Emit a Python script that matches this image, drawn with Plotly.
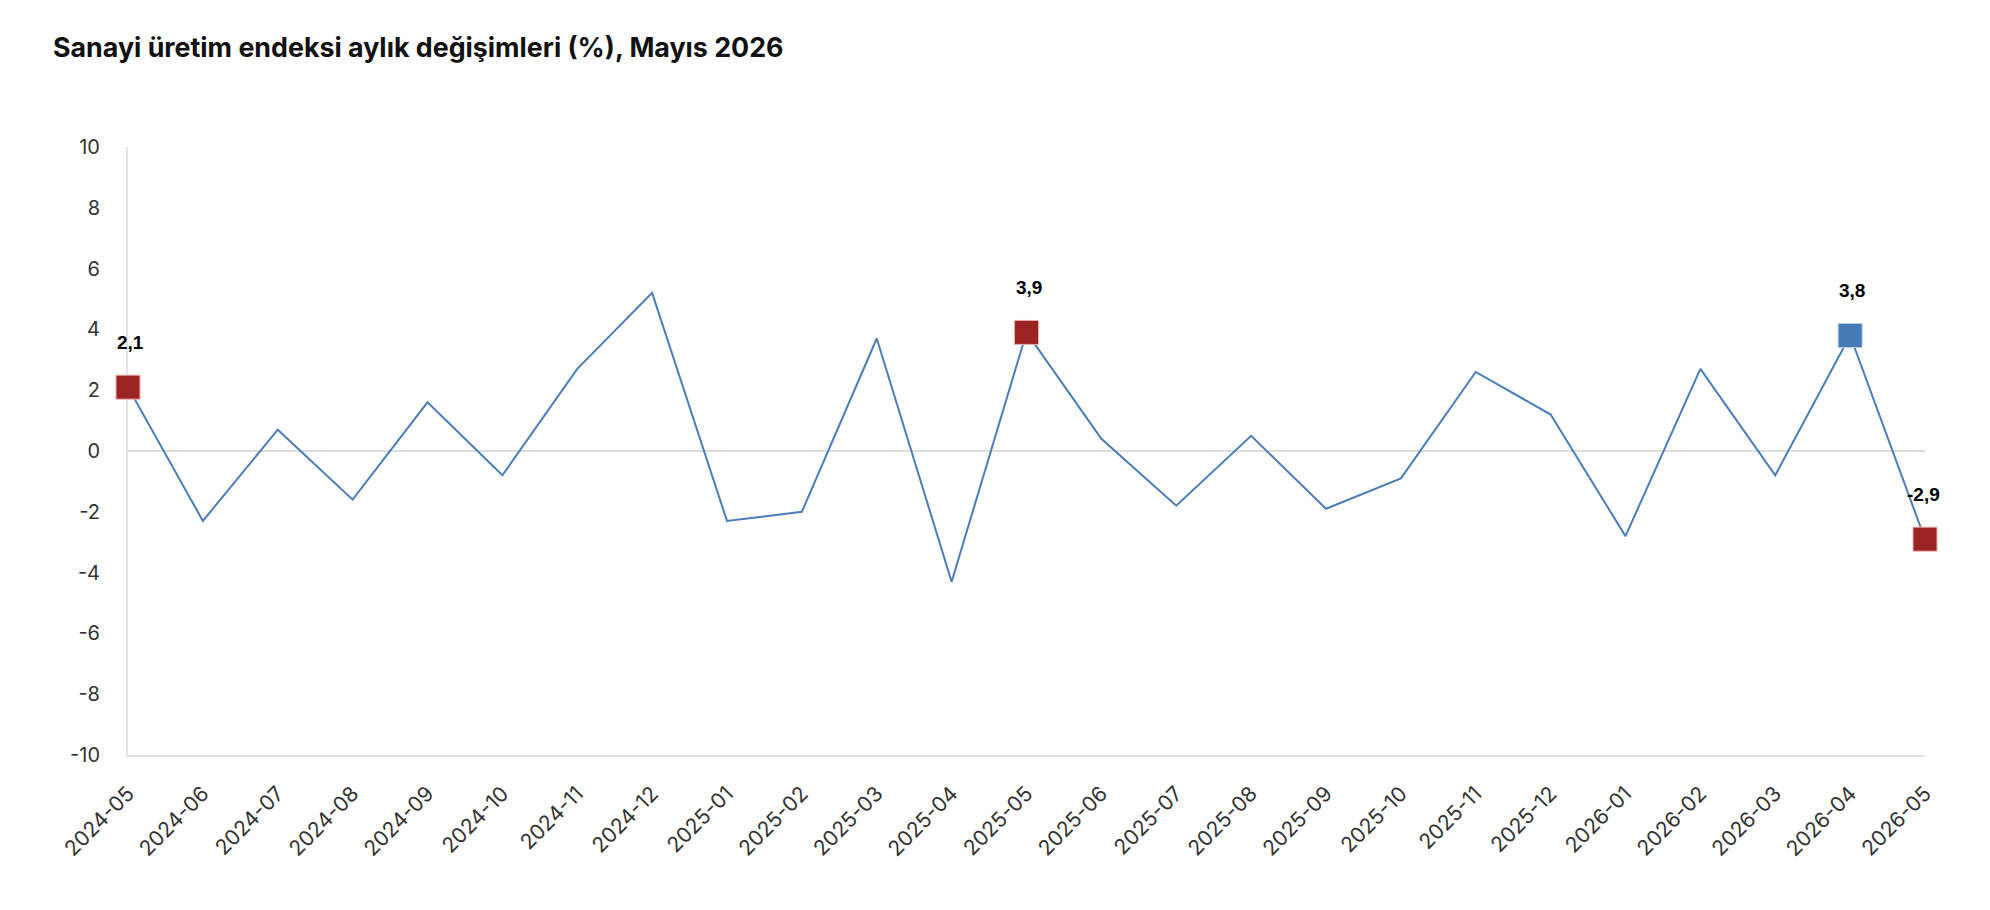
import plotly.graph_objects as go

months = ["2024-05","2024-06","2024-07","2024-08","2024-09","2024-10","2024-11","2024-12",
          "2025-01","2025-02","2025-03","2025-04","2025-05","2025-06","2025-07","2025-08",
          "2025-09","2025-10","2025-11","2025-12","2026-01","2026-02","2026-03","2026-04","2026-05"]
values = [2.1,-2.3,0.7,-1.6,1.6,-0.8,2.7,5.2,
          -2.3,-2.0,3.7,-4.3,3.9,0.4,-1.8,0.5,
          -1.9,-0.9,2.6,1.2,-2.8,2.7,-0.8,3.8,-2.9]

red_months = ["2024-05","2025-05","2026-05"]
blue_months = ["2026-04"]

y_ticks = [-10,-8,-6,-4,-2,0,2,4,6,8,10]
y_ticktext = [str(v) for v in y_ticks]

val = dict(zip(months, values))

RED = "#9b2423"
BLUE = "#467ab2"

fig = go.Figure()
fig.add_trace(go.Scatter(x=months, y=values, mode="lines",
                         line=dict(color="#4a7dba", width=2), hoverinfo="x+y",
                         cliponaxis=False))
fig.add_trace(go.Scatter(x=red_months, y=[val[m] for m in red_months], mode="markers",
                         marker=dict(symbol="square", size=24, color=RED,
                                     line=dict(color="#e8b0b0", width=1)),
                         cliponaxis=False))
fig.add_trace(go.Scatter(x=blue_months, y=[val[m] for m in blue_months], mode="markers",
                         marker=dict(symbol="square", size=24, color=BLUE,
                                     line=dict(color="#b8cde6", width=1)),
                         cliponaxis=False))

for m in red_months + blue_months:
    fig.add_annotation(x=m, y=val[m], text=f"{val[m]:.1f}".replace(".", ","),
                       showarrow=False, yshift=45, xshift=2 if m != "2026-05" else -2,
                       font=dict(family="Liberation Sans, Arial", size=19, color="#000000", weight="bold"))

fig.update_layout(
    width=1990, height=910,
    paper_bgcolor="white", plot_bgcolor="white",
    showlegend=False,
    margin=dict(l=128, r=65, t=147, b=155),
    title=dict(text="<b>Sanayi üretim endeksi aylık değişimleri (%), Mayıs 2026</b>",
               x=53/1990, xanchor="left", y=1-48/910, yanchor="middle",
               font=dict(family="Inter, Roboto, Arial", size=26.8, color="#111111")),
)
fig.update_xaxes(type="category", categoryorder="array", categoryarray=months,
                 range=[0, len(months) - 1],
                 tickangle=-45, showgrid=False, showline=True, linecolor="#e3e3e3", linewidth=2,
                 ticks="", ticklabelstandoff=16, layer="below traces",
                 tickfont=dict(family="Inter, Roboto, Arial", size=21, color="#333333"),
                 zeroline=False)
fig.update_yaxes(range=[-10, 10], tickvals=y_ticks, ticktext=y_ticktext,
                 showgrid=False, showline=True, linecolor="#e1e5eb", linewidth=2,
                 zeroline=True, zerolinecolor="#dddddd", zerolinewidth=2,
                 ticks="", ticklabelstandoff=22, layer="below traces",
                 tickfont=dict(family="Inter, Roboto, Arial", size=20, color="#333333"))

fig.write_html("out.html")
